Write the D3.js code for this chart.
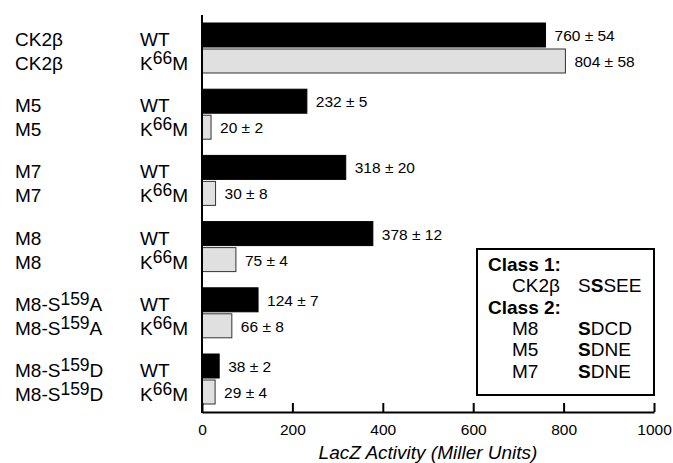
<!DOCTYPE html>
<html><head><meta charset="utf-8">
<script src="https://cdn.jsdelivr.net/npm/d3@7/dist/d3.min.js"></script>
<style>
body{margin:0;background:#fff;}
text{font-family:"Liberation Sans",Arial,Helvetica,sans-serif;fill:#000;}
</style></head>
<body>
<svg id="chart" width="673" height="463"></svg>
<script>
// ---- data ----
const groupBase   = ["CK2β", "M5", "M7", "M8", "M8-S", "M8-S"];
const groupSup    = ["", "", "", "", "159", "159"];
const groupSuffix = ["", "", "", "", "A", "D"];
const variants    = ["WT", "K66M"];
const wtValues    = [760, 232, 318, 378, 124, 38];
const wtErrors    = [54, 5, 20, 12, 7, 2];
const kmValues    = [804, 20, 30, 75, 66, 29];
const kmErrors    = [58, 2, 8, 4, 8, 4];
const xTicks      = [0, 200, 400, 600, 800, 1000];
const xTitle      = "LacZ Activity (Miller Units)";
const legendRows  = [
  {bold:"Class 1:", name:"", seq:[]},
  {bold:"", name:"CK2β", seq:[["S",false],["S",true],["SEE",false]]},
  {bold:"Class 2:", name:"", seq:[]},
  {bold:"", name:"M8", seq:[["S",true],["DCD",false]]},
  {bold:"", name:"M5", seq:[["S",true],["DNE",false]]},
  {bold:"", name:"M7", seq:[["S",true],["DNE",false]]}
];

const svg = d3.select("#chart");
const x = d3.scaleLinear().domain([0, 1000]).range([202, 654]);
const yGroup = d3.scaleBand().domain(d3.range(groupBase.length)).range([23, 404]).paddingInner(0.2447).paddingOuter(0);
const yInner = d3.scaleBand().domain(variants).range([0, yGroup.bandwidth()]).paddingInner(2/26).paddingOuter(0);

const rows = [];
groupBase.forEach((g, i) => {
  rows.push({g:i, v:"WT", value:wtValues[i], err:wtErrors[i]});
  rows.push({g:i, v:"K66M", value:kmValues[i], err:kmErrors[i]});
});

// bars
svg.append("g").selectAll("rect").data(rows).join("rect")
  .attr("x", x(0))
  .attr("y", d => yGroup(d.g) + yInner(d.v))
  .attr("width", d => x(d.value) - x(0))
  .attr("height", yInner.bandwidth())
  .attr("fill", d => d.v === "WT" ? "#000" : "#e0e0e0")
  .attr("stroke", d => d.v === "WT" ? "#000" : "#333")
  .attr("stroke-width", 1);

// value labels
svg.append("g").selectAll("text").data(rows).join("text")
  .attr("x", d => x(d.value) + 9)
  .attr("y", d => yGroup(d.g) + yInner(d.v) + yInner.bandwidth()/2 + 6)
  .attr("font-size", 15.5)
  .text(d => `${d.value} ± ${d.err}`);

// left labels
const lab = svg.append("g").attr("font-size", 19);
groupBase.forEach((g, i) => {
  const top = yGroup(i);
  [23, 47].forEach((off, j) => {
    const t = lab.append("text").attr("x", 15).attr("y", top + off);
    t.append("tspan").text(g);
    if (groupSup[i]) {
      t.append("tspan").attr("dy", -6).attr("font-size", 17.5).text(groupSup[i]);
      t.append("tspan").attr("dy", 6).text(groupSuffix[i]);
    }
    const v = lab.append("text").attr("x", 140).attr("y", top + off);
    if (j === 0) v.text("WT");
    else {
      v.append("tspan").text("K");
      v.append("tspan").attr("dy", -6).attr("font-size", 17.5).text("66");
      v.append("tspan").attr("dy", 6).text("M");
    }
  });
});

// axes
const xAxis = d3.axisBottom(x).tickValues(xTicks).tickFormat(d3.format("d"))
  .tickSize(-9).tickSizeOuter(0).tickPadding(12);
const gx = svg.append("g").attr("transform", "translate(0,412)").call(xAxis);
gx.select(".domain").attr("stroke-width", 2).attr("stroke", "#000");
gx.selectAll(".tick line").attr("stroke-width", 2).attr("stroke", "#000");
gx.selectAll(".tick text").attr("font-size", 15.5).attr("font-family", "Liberation Sans, Arial, sans-serif").attr("fill", "#000");

svg.append("line").attr("x1", x(0)).attr("x2", x(0)).attr("y1", 15).attr("y2", 413)
  .attr("stroke", "#000").attr("stroke-width", 2);

svg.append("text").attr("x", (x(0) + x(1000))/2).attr("y", 459)
  .attr("text-anchor", "middle").attr("font-size", 19).attr("font-style", "italic").text(xTitle);

// legend
const lg = svg.append("g");
lg.append("rect").attr("x", 477).attr("y", 249).attr("width", 177).attr("height", 146)
  .attr("fill", "#fff").attr("stroke", "#000").attr("stroke-width", 2);
legendRows.forEach((r, i) => {
  const yy = 271 + i * 21.3;
  if (r.bold) lg.append("text").attr("x", 488).attr("y", yy).attr("font-size", 19).attr("font-weight", "bold").text(r.bold);
  if (r.name) lg.append("text").attr("x", 512).attr("y", yy).attr("font-size", 19).text(r.name);
  if (r.seq.length) {
    const t = lg.append("text").attr("x", 578).attr("y", yy).attr("font-size", 19);
    r.seq.forEach(([s, b]) => t.append("tspan").attr("font-weight", b ? "bold" : "normal").text(s));
  }
});
</script>
</body></html>
